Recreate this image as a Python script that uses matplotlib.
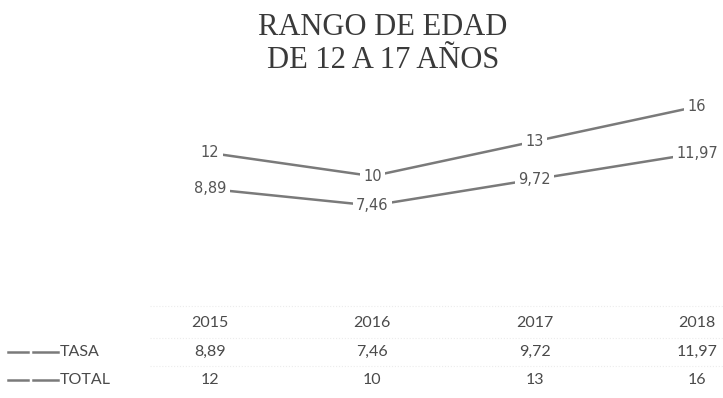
import matplotlib
matplotlib.use('Agg')
from matplotlib import pyplot
from matplotlib.lines import Line2D
from matplotlib import transforms

years = ['2015', '2016', '2017', '2018']
tasa = [8.89, 7.46, 9.72, 11.97]
total = [12, 10, 13, 16]
title = 'RANGO DE EDAD\nDE 12 A 17 AÑOS'

W, H = 723, 398
LineColor = '#7a7a7a'
TextColor = '#4a4a4a'


def Fmt(v):
  s = '{:.2f}'.format(v) if isinstance(v, float) else '{}'.format(v)
  return s.replace('.', ',')


def Run():
  fig = pyplot.figure(figsize=(W / 100., H / 100.), dpi=100)
  fig.patch.set_facecolor('white')

  # Title, two lines in a serif face.
  fig.text(383. / W, 1 - 44. / H, title, ha='center', va='center',
           family='Liberation Serif', fontsize=22, color='#3a3a3a', linespacing=1.15)

  # Line area: both series share one value axis.
  ax = fig.add_axes([210. / W, 1 - 292. / H, 487. / W, 197. / H])
  ax.set_xlim(0, len(years) - 1)
  ax.set_ylim(0, 17)
  ax.axis('off')
  x = range(len(years))
  for series in (total, tasa):
    ax.plot(x, series, '-', color=LineColor, linewidth=1.8, solid_capstyle='butt', zorder=1)
    for xi, v in zip(x, series):
      ax.text(xi, v, Fmt(v), ha='center', va='center', fontsize=10.5,
              family='DejaVu Sans', color='#555555', zorder=3, clip_on=False,
              bbox=dict(facecolor='white', edgecolor='none', pad=2.5))

  # Data table under the chart.
  trans = transforms.blended_transform_factory(ax.transData, fig.transFigure)
  rows = [('', years), ('TASA', [Fmt(v) for v in tasa]), ('TOTAL', [Fmt(v) for v in total])]
  row_y = [323, 352, 380]
  for (name, cells), py in zip(rows, row_y):
    fy = 1 - py / H
    for xi, c in zip(x, cells):
      ax.text(xi, fy, c, transform=trans, ha='center', va='center', fontsize=11.5,
              family='Lato', color=TextColor, clip_on=False)
    if name:
      fig.text(60. / W, fy, name, ha='left', va='center', fontsize=11.5,
               family='Lato', color=TextColor)
      for x0, x1 in ((8, 28), (33, 58)):
        fig.add_artist(Line2D([x0 / W, x1 / W], [fy, fy], transform=fig.transFigure,
                              color=LineColor, linewidth=1.8))

  # Faint table rules.
  for py in (306, 338, 366):
    fig.add_artist(Line2D([150. / W, 1.], [1 - py / H] * 2, transform=fig.transFigure,
                          color='#ececec', linewidth=0.8, linestyle=':'))

  fig.savefig('out.png', dpi=100, facecolor='white')


if __name__ == '__main__':
  Run()
